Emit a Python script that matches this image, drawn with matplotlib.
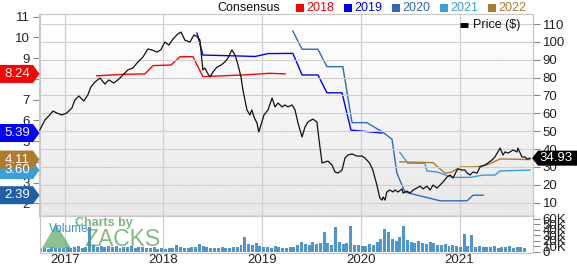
import numpy as np
import pandas as pd
import matplotlib
matplotlib.use("Agg")
import matplotlib.pyplot as plt
import matplotlib.dates as mdates
import matplotlib.transforms as mtransforms
from matplotlib.patches import Polygon, Rectangle

plt.rcParams['font.family'] = ['Liberation Sans', 'DejaVu Sans']

# --- price (right axis, $) ---
price_dates = [
    "2016-09-30", "2016-10-19", "2016-11-06", "2016-11-18", "2016-12-02", "2016-12-21",
    "2017-01-08", "2017-01-27", "2017-02-07", "2017-02-22", "2017-03-12", "2017-03-27",
    "2017-04-07", "2017-04-22", "2017-05-11", "2017-05-29", "2017-06-13", "2017-07-01",
    "2017-07-20", "2017-08-07", "2017-08-22", "2017-09-10", "2017-09-28", "2017-10-17",
    "2017-11-04", "2017-11-19", "2017-12-08", "2017-12-22", "2018-01-06", "2018-01-21",
    "2018-02-05", "2018-02-23", "2018-03-07", "2018-03-21", "2018-04-09", "2018-04-24",
    "2018-05-08", "2018-05-16", "2018-05-23", "2018-05-27", "2018-06-03", "2018-06-11",
    "2018-06-22", "2018-07-03", "2018-07-18", "2018-08-02", "2018-08-16", "2018-08-28",
    "2018-09-11", "2018-09-23", "2018-10-04", "2018-10-15", "2018-10-22", "2018-11-06",
    "2018-11-17", "2018-11-24", "2018-12-02", "2018-12-13", "2018-12-20", "2018-12-28",
    "2019-01-08", "2019-01-23", "2019-02-07", "2019-02-18", "2019-03-01", "2019-03-16",
    "2019-03-27", "2019-04-07", "2019-04-22", "2019-05-03", "2019-05-14", "2019-05-29",
    "2019-06-09", "2019-06-20", "2019-07-08", "2019-07-23", "2019-07-31", "2019-08-11",
    "2019-08-22", "2019-09-02", "2019-09-17", "2019-09-28", "2019-10-09", "2019-10-24",
    "2019-11-04", "2019-11-15", "2019-11-30", "2019-12-18", "2020-01-06", "2020-01-17",
    "2020-02-03", "2020-02-15", "2020-03-01", "2020-03-12", "2020-03-20", "2020-03-24",
    "2020-03-31", "2020-04-07", "2020-04-18", "2020-04-30", "2020-05-07", "2020-05-18",
    "2020-06-02", "2020-06-06", "2020-06-20", "2020-07-02", "2020-07-13", "2020-07-27",
    "2020-08-08", "2020-08-19", "2020-09-02", "2020-09-14", "2020-09-25", "2020-10-10",
    "2020-10-21", "2020-11-01", "2020-11-16", "2020-11-27", "2020-12-08", "2020-12-19",
    "2020-12-26", "2021-01-10", "2021-01-21", "2021-01-29", "2021-02-09", "2021-02-20",
    "2021-03-07", "2021-03-18", "2021-04-05", "2021-04-16", "2021-05-01", "2021-05-12",
    "2021-05-23", "2021-05-31", "2021-06-11", "2021-06-18", "2021-06-29", "2021-07-07",
    "2021-07-18", "2021-08-02", "2021-08-05", "2021-08-20", "2021-08-31", "2021-09-08",
    "2021-09-19",
]
price_close = [
    50.7, 56.3, 59.1, 61.3, 60.2, 59.1,
    60.2, 63.0, 67.5, 69.7, 66.9, 70.3,
    74.7, 77.5, 79.8, 76.4, 78.7, 77.0,
    79.2, 82.0, 84.3, 85.4, 88.7, 91.5,
    96.0, 95.5, 94.3, 95.5, 99.9, 98.2,
    101.6, 104.4, 105.5, 101.0, 99.9, 103.9,
    102.7, 101.0, 89.9, 84.3, 85.4, 83.1,
    80.3, 83.1, 85.9, 87.0, 88.7, 91.0,
    95.5, 92.6, 87.1, 80.3, 73.1, 61.9,
    59.1, 61.9, 58.0, 54.6, 49.6, 53.5,
    59.1, 61.9, 68.6, 63.6, 65.8, 63.6,
    64.7, 63.6, 64.7, 61.9, 54.6, 46.8,
    52.4, 55.2, 56.8, 55.2, 45.1, 32.2,
    32.8, 33.3, 31.1, 27.2, 26.6, 28.3,
    35.0, 36.7, 37.3, 36.1, 36.1, 35.0,
    32.2, 28.3, 19.9, 12.6, 11.5, 13.2,
    11.5, 16.0, 17.1, 16.0, 17.1, 16.0,
    17.7, 15.4, 16.5, 15.4, 17.1, 18.2,
    19.3, 17.7, 19.3, 17.1, 19.9, 18.2,
    19.9, 21.6, 24.4, 25.5, 23.8, 27.2,
    28.9, 28.3, 28.3, 26.6, 25.5, 27.2,
    26.6, 30.0, 31.1, 32.2, 33.9, 35.6,
    38.4, 40.6, 36.7, 38.4, 37.8, 38.4,
    39.5, 38.4, 40.6, 35.6, 35.6, 34.5,
    34.93,
]

# --- consensus EPS estimates (left axis) ---
eps_2018_dates = ["2017-04-29", "2017-08-04", "2017-10-24", "2017-11-23", "2018-01-29",
                  "2018-03-03", "2018-04-20", "2018-05-27", "2018-10-22", "2019-01-30", "2019-03-27"]
eps_2018 = [8.15, 8.22, 8.24, 8.64, 8.67, 9.07, 9.07, 8.11, 8.19, 8.27, 8.24]

eps_2019_dates = ["2018-05-05", "2018-05-27", "2018-10-22", "2018-12-06", "2019-01-23", "2019-04-25",
                  "2019-05-29", "2019-07-27", "2019-08-29", "2019-10-24", "2019-11-26", "2020-03-20"]
eps_2019 = [10.21, 9.15, 9.10, 9.08, 9.22, 9.23, 8.19, 8.19, 7.33, 7.33, 5.53, 5.39]

eps_2020_dates = ["2019-04-25", "2019-05-29", "2019-07-27", "2019-08-29", "2019-10-27", "2019-11-30",
                  "2020-01-24", "2020-03-24", "2020-04-26", "2020-05-14", "2020-06-13", "2020-08-26",
                  "2020-10-21", "2021-01-29", "2021-02-20", "2021-03-29"]
eps_2020 = [10.31, 9.43, 9.43, 8.59, 8.59, 5.89, 5.89, 5.42, 5.09, 3.46, 2.54, 2.30,
            2.12, 2.12, 2.39, 2.39]

eps_2021_dates = ["2020-05-25", "2020-06-24", "2020-08-26", "2020-09-02", "2020-10-10", "2020-12-04",
                  "2021-02-09", "2021-03-29", "2021-05-12", "2021-05-31", "2021-09-19"]
eps_2021 = [4.46, 3.93, 3.93, 3.56, 3.51, 3.25, 3.25, 3.36, 3.36, 3.56, 3.60]

eps_2022_dates = ["2020-05-25", "2020-09-25", "2020-11-08", "2020-12-04", "2021-01-03",
                  "2021-03-07", "2021-04-13", "2021-05-31", "2021-09-19"]
eps_2022 = [4.00, 3.96, 3.45, 3.51, 3.75, 3.76, 3.85, 4.14, 4.11]

# --- volume (thousands, two-week bars starting 2016-10-03) ---
volume_start = "2016-10-03"
volume_k = [
    6, 7, 5, 8, 6, 7, 6,
    9, 7, 8, 10, 7, 9, 45,
    12, 9, 10, 8, 11, 8, 10,
    7, 9, 8, 11, 7, 9, 8,
    7, 6, 8, 5, 6,
    5, 7, 6, 12, 8, 6, 7,
    8, 9, 14, 10, 8, 7, 6,
    7, 8, 6, 7, 9, 8,
    12, 27, 14, 12, 16, 11,
    9, 8, 7, 10, 8, 6, 7,
    9, 8, 12, 17, 14,
    12, 18, 14, 16, 36, 15, 12,
    44, 18, 14, 16, 47, 12, 13,
    11, 10, 14, 13, 18, 24,
    41, 35, 24, 20, 26, 46, 22,
    18, 16, 20, 15, 14, 17, 16,
    13, 12, 14, 11, 13, 10,
    9, 33, 10, 31, 9, 10, 8,
    9, 8, 10, 7, 9, 8, 10,
    7, 9, 8, 6,
]

years = ["2017", "2018", "2019", "2020", "2021"]
legend_years = ["2018", "2019", "2020", "2021", "2022"]
legend_colors = ["#ff0000", "#0000ff", "#2d6cb5", "#3a9fd6", "#b07a2c"]
eps_ticks = [2, 3, 4, 5, 6, 7, 8, 9, 10, 11]
price_ticks = [10, 20, 30, 40, 50, 60, 70, 80, 90, 100, 110]
vol_ticks = [0, 10, 20, 30, 40, 50, 60]
last_price = "34.93"
eps_labels = [(8.24, "8.24", "#ff0000"), (5.39, "5.39", "#0000ff"),
              (3.60, "3.60", "#3a9fd6"), (4.11, "4.11", "#b07a2c"),
              (2.39, "2.39", "#1f5fa6")]

W, H = 577, 265
fig = plt.figure(figsize=(W / 100, H / 100), dpi=100)


def fx(x):
    return x / W


def fy(y):
    return 1 - y / H


left, right = 39.5, 533
ax = fig.add_axes([fx(left), fy(216), fx(right - left), (216 - 14) / H])
axv = fig.add_axes([fx(left), fy(253), fx(right - left), (253 - 217) / H])
ax2 = ax.twinx()

xmin, xmax = pd.Timestamp("2016-09-29"), pd.Timestamp("2021-09-30")
grid_c = "#cfcfcf"
tick_c = "#222222"

# gradient background
grad = np.linspace(0.91, 1.0, 100).reshape(-1, 1)
ax.imshow(grad, extent=[0, 1, 1, 0], transform=ax.transAxes, aspect="auto",
          cmap="gray", vmin=0, vmax=1, zorder=0, origin="upper")

pdates = pd.to_datetime(price_dates)
for d, v, c in [(eps_2018_dates, eps_2018, "#ff0000"), (eps_2019_dates, eps_2019, "#0000ff"),
                (eps_2020_dates, eps_2020, "#2d6cb5"), (eps_2021_dates, eps_2021, "#3a9fd6"),
                (eps_2022_dates, eps_2022, "#b07a2c")]:
    ax.plot(pd.to_datetime(d), v, color=c, lw=1.0, zorder=3)

ax2.plot(pdates, price_close, color="#111111", lw=0.9, zorder=4)

ax.set_xlim(xmin, xmax)
ax.set_ylim(1.387, 11.13)
ax2.set_ylim(2.56, 115.6)
ax2.set_xlim(xmin, xmax)

# gridlines
for p in price_ticks:
    ax2.axhline(p, color=grid_c, lw=0.8, zorder=1)
for yr in years:
    ax.axvline(pd.Timestamp(yr + "-01-01"), color=grid_c, lw=0.9, zorder=1)
    axv.axvline(pd.Timestamp(yr + "-01-01"), color=grid_c, lw=0.9, zorder=1)

ax.set_yticks(eps_ticks)
ax.set_yticklabels([str(t) for t in eps_ticks])
ax2.set_yticks(price_ticks)
ax2.set_yticklabels([str(t) for t in price_ticks])
ax.set_xticks([])
ax2.set_xticks([])
for a in (ax, ax2):
    a.tick_params(axis="y", colors="#888888", labelcolor=tick_c, labelsize=9.5, length=5, width=0.8, pad=2)
    for s in a.spines.values():
        s.set_color("#c8c8c8")
        s.set_linewidth(0.8)
ax.spines["bottom"].set_linewidth(2)
ax.spines["bottom"].set_color("#d4d4d4")

# volume panel
vdates = pd.date_range(volume_start, periods=len(volume_k), freq="14D")
axv.bar(vdates, volume_k, width=11, color="#4f95d2", edgecolor="none", zorder=2)
axv.set_xlim(xmin, xmax)
axv.set_ylim(-2.3, 63)
axv.yaxis.tick_right()
axv.set_yticks(vol_ticks)
axv.set_yticklabels(["0" if t == 0 else f"{t}K" for t in vol_ticks])
axv.tick_params(axis="y", colors="#888888", labelcolor=tick_c, labelsize=9.5, length=5, width=0.8, pad=2)
axv.set_xticks([pd.Timestamp(y + "-01-01") for y in years])
axv.set_xticklabels(years)
axv.tick_params(axis="x", length=0, labelsize=9.5, labelcolor=tick_c, pad=0.5)
for s in axv.spines.values():
    s.set_color("#c8c8c8")
    s.set_linewidth(0.8)
axv.spines["top"].set_visible(False)

# watermark
fig.add_artist(Polygon([(fx(42), fy(248)), (fx(71), fy(248)), (fx(56), fy(224))],
                       closed=True, transform=fig.transFigure, color="#4fa34f", alpha=0.65, lw=0))
fig.text(fx(75), fy(223), "Charts by", color="#5aa55a", alpha=0.8, fontsize=9, fontweight="bold",
         ha="left", va="center")
fig.text(fx(84), fy(240), "ZACKS", color="#4f9f4f", alpha=0.7, fontsize=16.5,
         ha="left", va="center")
fig.text(fx(49), fy(229), "Volume", color="#3a8fd6", fontsize=8.5, ha="left", va="center")

# top legend
fig.text(fx(217), fy(8), "Consensus", fontsize=9, color="#111111", ha="left", va="center")
for i, (yr, c) in enumerate(zip(legend_years, legend_colors)):
    sx = 296 + i * 48
    fig.add_artist(Rectangle((fx(sx), fy(12)), fx(8), 8 / H, transform=fig.transFigure,
                             color=c, lw=0))
    fig.text(fx(sx + 10), fy(8), yr, fontsize=9, color=c, ha="left", va="center")

# price legend inside the plot
fig.add_artist(plt.Line2D([fx(460), fx(468)], [fy(25), fy(25)], transform=fig.transFigure,
                          color="black", lw=3.5, solid_capstyle="butt"))
fig.text(fx(473), fy(25), "Price ($)", fontsize=9, color="#111111", ha="left", va="center")

# value tags on the left (EPS)
tr_l = mtransforms.blended_transform_factory(fig.transFigure, ax.transData)
hh = 9 * (11.13 - 1.387) / 202
for val, txt, c in eps_labels:
    pts = [(0, val - hh), (fx(33), val - hh), (fx(39.5), val), (fx(33), val + hh), (0, val + hh)]
    fig.add_artist(Polygon(pts, closed=True, transform=tr_l, color=c, lw=0, zorder=5))
    fig.text(fx(17), val, txt, transform=tr_l, color="white", fontsize=9.5,
             ha="center", va="center", zorder=6)

# last price tag on the right
tr_r = mtransforms.blended_transform_factory(fig.transFigure, ax2.transData)
lp = price_close[-1]
hp = 7.5 * (115.6 - 2.56) / 202
pts = [(fx(532), lp), (fx(538), lp + hp), (1, lp + hp), (1, lp - hp), (fx(538), lp - hp)]
fig.add_artist(Polygon(pts, closed=True, transform=tr_r, color="black", lw=0, zorder=5))
fig.text(fx(556), lp, last_price, transform=tr_r, color="white", fontsize=9.5,
         ha="center", va="center", zorder=6)

fig.savefig("out.png", dpi=100)
